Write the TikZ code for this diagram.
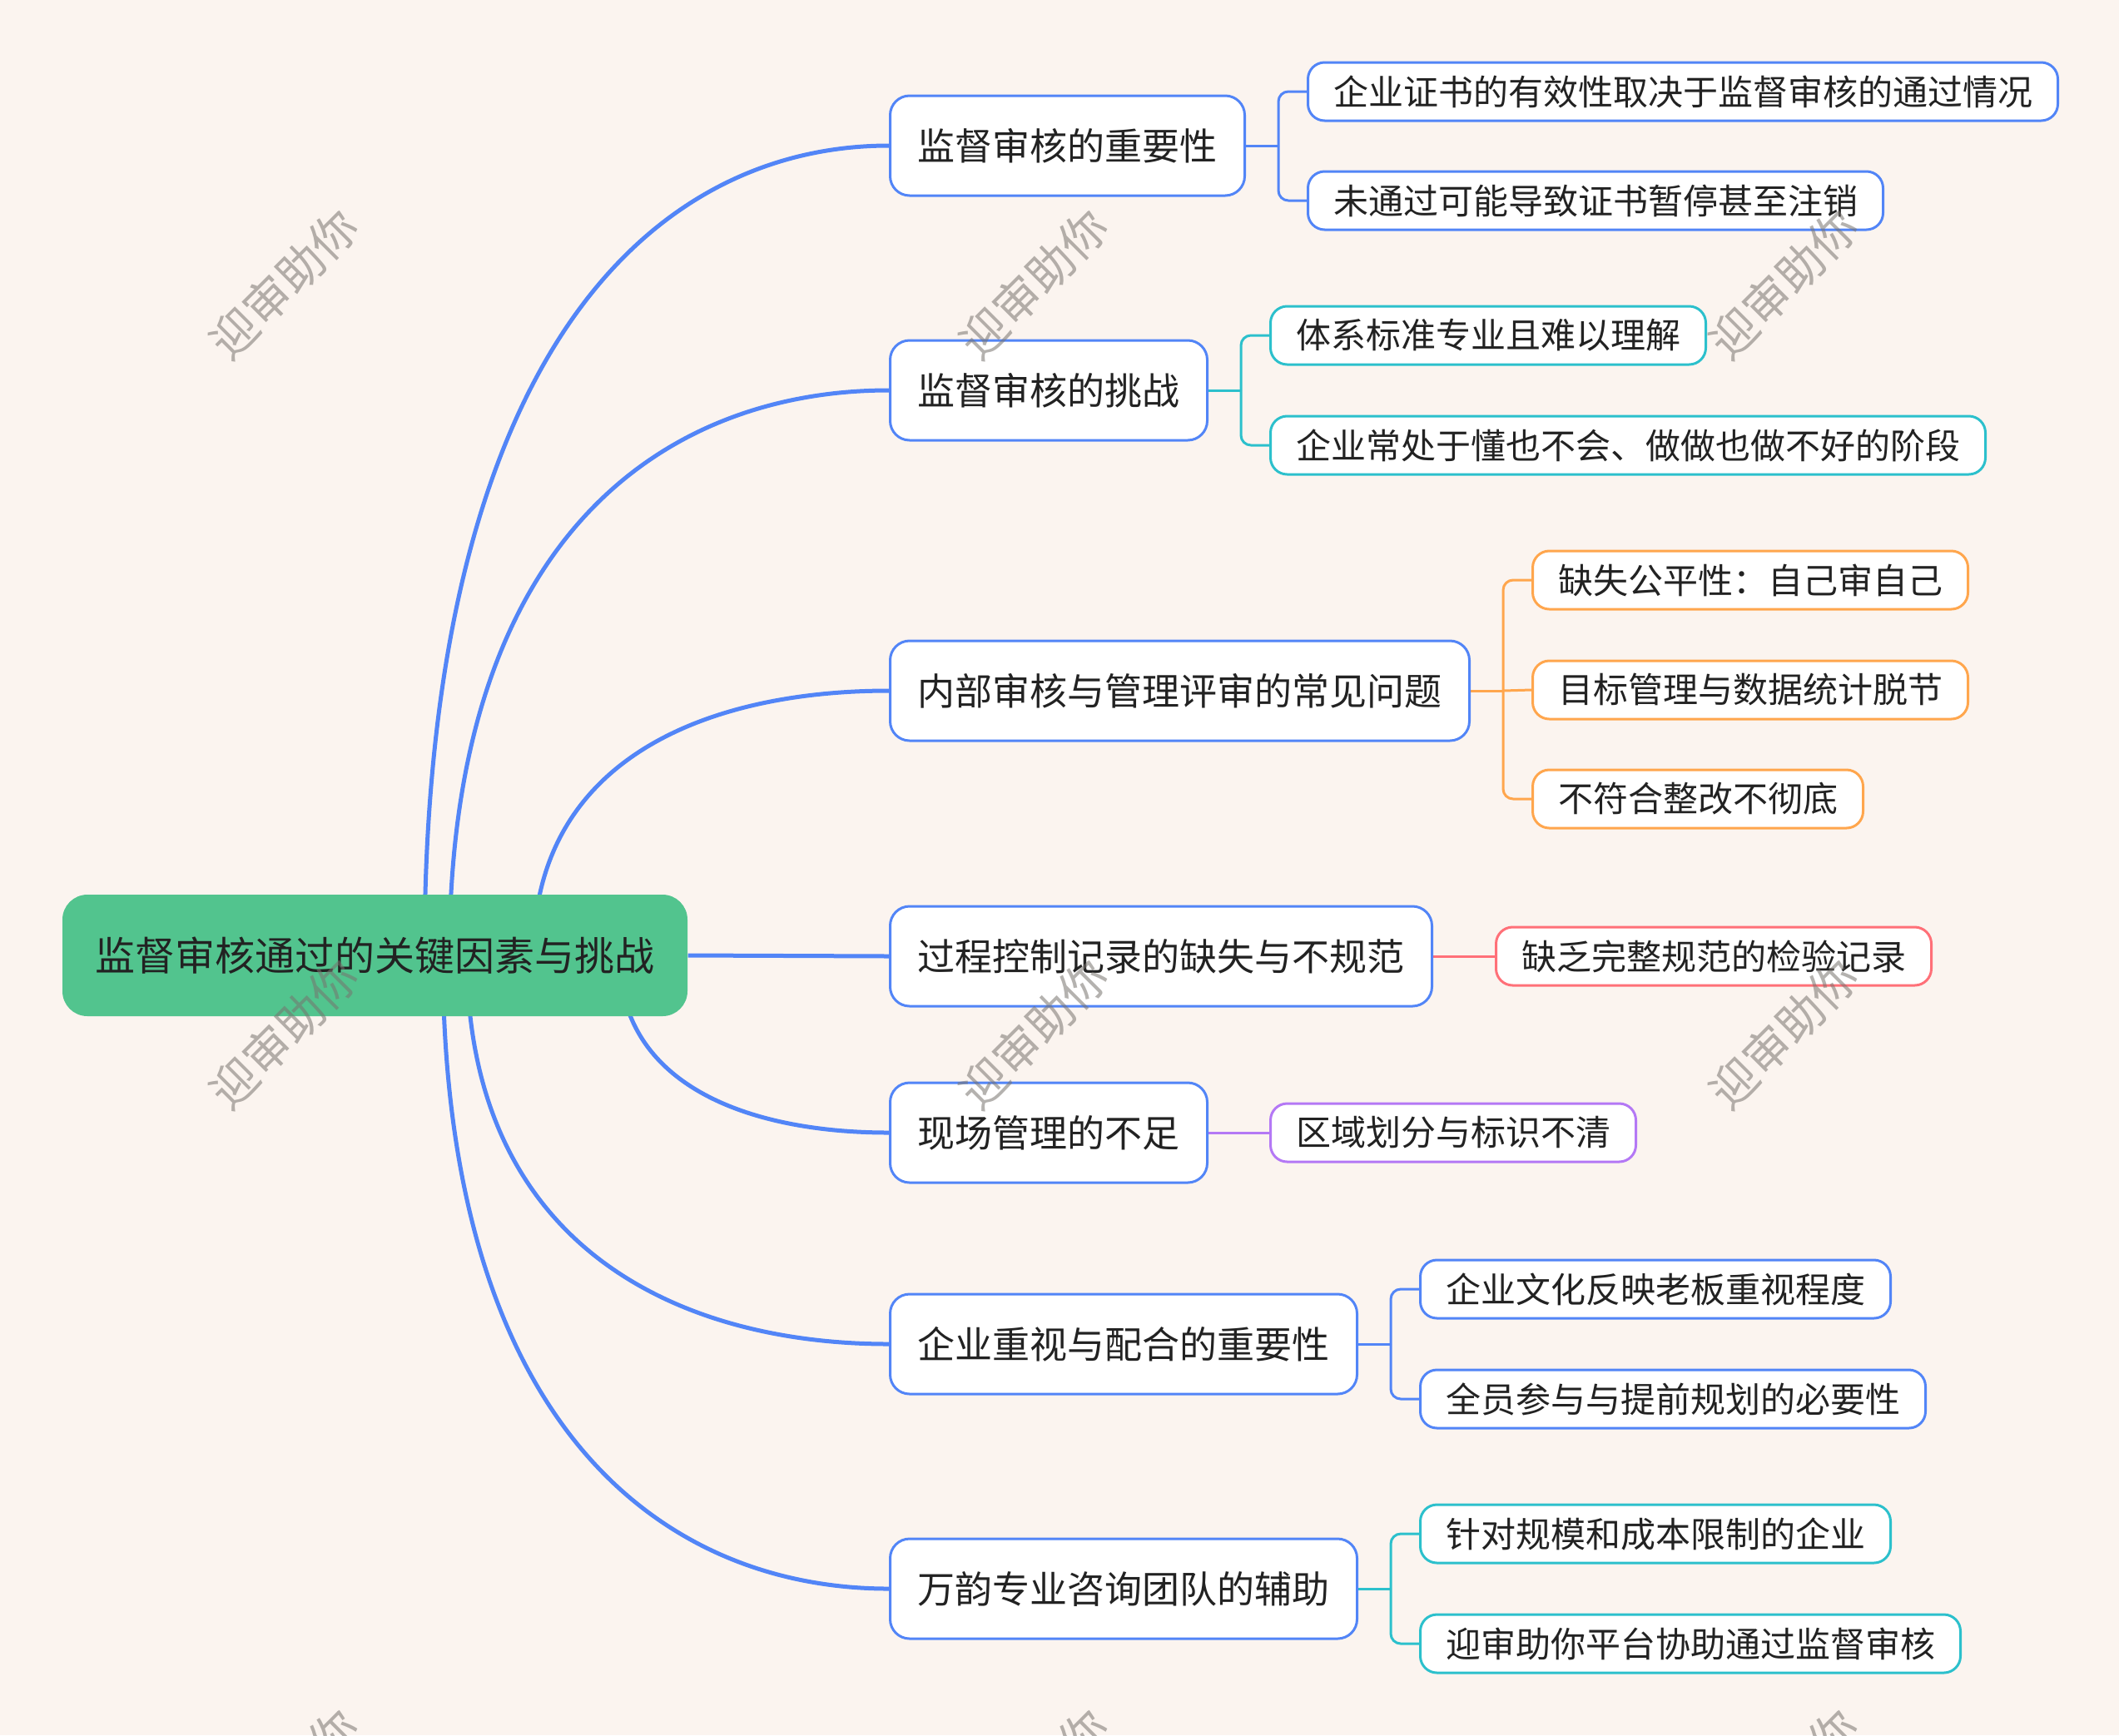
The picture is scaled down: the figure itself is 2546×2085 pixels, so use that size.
\documentclass[tikz,border=0pt]{standalone}
\usepackage{fontspec}
\setmainfont{Noto Sans CJK SC}
\definecolor{bgc}{RGB}{251,244,239}
\definecolor{rootg}{RGB}{82,196,142}
\definecolor{bblue}{RGB}{82,133,247}
\definecolor{bcyan}{RGB}{44,192,204}
\definecolor{borange}{RGB}{255,166,77}
\definecolor{bred}{RGB}{255,112,120}
\definecolor{bpurple}{RGB}{180,120,245}
\definecolor{txt}{RGB}{34,34,34}
\definecolor{wmc}{RGB}{120,115,110}
\pgfdeclarelayer{back}
\pgfdeclarelayer{conn}
\pgfdeclarelayer{front}
\pgfsetlayers{back,conn,main,front}
\tikzset{
  rootbox/.style={fill=rootg, rounded corners=9pt, minimum height=43.8pt, inner xsep=11.85pt, text=txt, font=\fontsize{14.4pt}{17pt}\selectfont},
  lone/.style={draw=bblue, line width=0.9pt, fill=white, rounded corners=7pt, minimum height=36pt, inner xsep=9.9pt, text=txt, font=\fontsize{13.5pt}{16pt}\selectfont, anchor=west},
  ltwo/.style={draw=#1, line width=0.9pt, fill=white, rounded corners=6pt, minimum height=21pt, inner xsep=9.15pt, text=txt, font=\fontsize{12.6pt}{15pt}\selectfont, anchor=west},
  mainc/.style={draw=bblue, line width=1.5pt},
  subc/.style={draw=#1, line width=0.9pt},
  elbow/.style={draw=#1, line width=0.9pt, rounded corners=3.6pt},
  wm/.style={text=wmc, opacity=0.55, rotate=45, font=\fontsize{16.8pt}{18pt}\selectfont}
}
\begin{document}
\begin{tikzpicture}[x=0.3pt,y=-0.3pt]
\useasboundingbox (0,0) rectangle (2546,2085);
\begin{pgfonlayer}{back}
\fill[bgc] (0,0) rectangle (2546,2085);
\end{pgfonlayer}

% root
\node[rootbox] (root) at (450.5,1148) {监督审核通过的关键因素与挑战};

% level 1
\node[lone] (n1) at (1068,175) {监督审核的重要性};
\node[lone] (n2) at (1068,469) {监督审核的挑战};
\node[lone] (n3) at (1068,830) {内部审核与管理评审的常见问题};
\node[lone] (n4) at (1068,1149) {过程控制记录的缺失与不规范};
\node[lone] (n5) at (1068,1361) {现场管理的不足};
\node[lone] (n6) at (1068,1615) {企业重视与配合的重要性};
\node[lone] (n7) at (1068,1909) {万韵专业咨询团队的辅助};

% level 2
\node[ltwo=bblue] (n1a) at (1570,110) {企业证书的有效性取决于监督审核的通过情况};
\node[ltwo=bblue] (n1b) at (1570,241) {未通过可能导致证书暂停甚至注销};
\node[ltwo=bcyan] (n2a) at (1525,403) {体系标准专业且难以理解};
\node[ltwo=bcyan] (n2b) at (1525,535) {企业常处于懂也不会、做做也做不好的阶段};
\node[ltwo=borange] (n3a) at (1840,697) {缺失公平性：自己审自己};
\node[ltwo=borange] (n3b) at (1840,829) {目标管理与数据统计脱节};
\node[ltwo=borange] (n3c) at (1840,960) {不符合整改不彻底};
\node[ltwo=bred] (n4a) at (1796,1149) {缺乏完整规范的检验记录};
\node[ltwo=bpurple] (n5a) at (1525,1361) {区域划分与标识不清};
\node[ltwo=bblue] (n6a) at (1705,1549) {企业文化反映老板重视程度};
\node[ltwo=bblue] (n6b) at (1705,1681) {全员参与与提前规划的必要性};
\node[ltwo=bcyan] (n7a) at (1705,1843) {针对规模和成本限制的企业};
\node[ltwo=bcyan] (n7b) at (1705,1975) {迎审助你平台协助通过监督审核};

\begin{pgfonlayer}{conn}
\coordinate (r1) at (510,1148);
\coordinate (r2) at (540,1148);
\coordinate (r3) at (641,1148);
\coordinate (r5) at (744,1148);
\coordinate (r6) at (561,1148);
\coordinate (r7) at (532,1148);
\draw[mainc] (r1) .. controls +(0,-730) and +(-279,0) .. (n1.west);
\draw[mainc] (r2) .. controls +(0,-509) and +(-264,0) .. (n2.west);
\draw[mainc] (r3) .. controls +(0,-239) and +(-214,0) .. (n3.west);
\draw[mainc] (root.east) -- (n4.west);
\draw[mainc] (r5) .. controls +(0,160) and +(-162,0) .. (n5.west);
\draw[mainc] (r6) .. controls +(0,350) and +(-253,0) .. (n6.west);
\draw[mainc] (r7) .. controls +(0,570) and +(-268,0) .. (n7.west);

% branch 1
\draw[subc=bblue] (n1.east) -- ++(39,0) coordinate (t1);
\draw[elbow=bblue] (t1) |- (n1a.west);
\draw[elbow=bblue] (t1) |- (n1b.west);
% branch 2
\draw[subc=bcyan] (n2.east) -- ++(39,0) coordinate (t2);
\draw[elbow=bcyan] (t2) |- (n2a.west);
\draw[elbow=bcyan] (t2) |- (n2b.west);
% branch 3
\draw[subc=borange] (n3.east) -- ++(39,0) coordinate (t3);
\draw[elbow=borange] (t3) |- (n3a.west);
\draw[elbow=borange] (t3) -- (n3b.west);
\draw[elbow=borange] (t3) |- (n3c.west);
% branch 4
\draw[subc=bred] (n4.east) -- (n4a.west);
% branch 5
\draw[subc=bpurple] (n5.east) -- (n5a.west);
% branch 6
\draw[subc=bblue] (n6.east) -- ++(39,0) coordinate (t6);
\draw[elbow=bblue] (t6) |- (n6a.west);
\draw[elbow=bblue] (t6) |- (n6b.west);
% branch 7
\draw[subc=bcyan] (n7.east) -- ++(39,0) coordinate (t7);
\draw[elbow=bcyan] (t7) |- (n7a.west);
\draw[elbow=bcyan] (t7) |- (n7b.west);
\end{pgfonlayer}

\begin{pgfonlayer}{front}
\node[wm] (w1) at (341,341) {迎审助你};
\node[wm] (w2) at (1242,341) {迎审助你};
\node[wm] (w3) at (2143,341) {迎审助你};
\node[wm] (w4) at (341,1242) {迎审助你};
\node[wm] (w5) at (1242,1242) {迎审助你};
\node[wm] (w6) at (2143,1242) {迎审助你};
\node[wm] (w7) at (341,2143) {迎审助你};
\node[wm] (w8) at (1242,2143) {迎审助你};
\node[wm] (w9) at (2143,2143) {迎审助你};
\end{pgfonlayer}
\end{tikzpicture}
\end{document}
